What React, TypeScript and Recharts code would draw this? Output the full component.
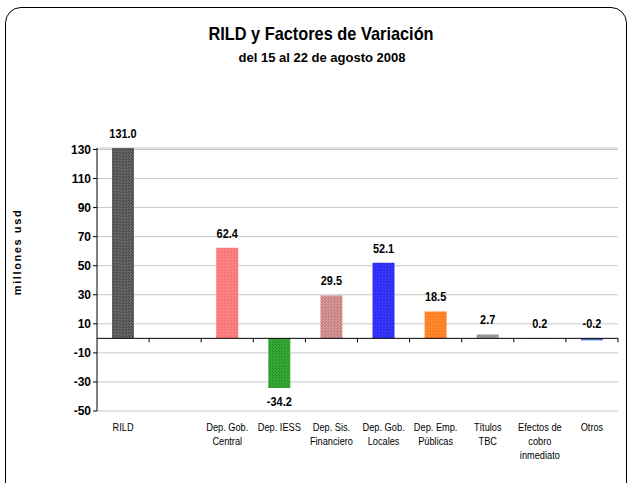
import React from "react";
import {
  BarChart,
  Bar,
  Cell,
  XAxis,
  YAxis,
  CartesianGrid,
  ReferenceLine,
  LabelList,
} from "recharts";

const categories = [
  "RILD",
  "",
  "Dep. Gob.\nCentral",
  "Dep. IESS",
  "Dep. Sis.\nFinanciero",
  "Dep. Gob.\nLocales",
  "Dep. Emp.\nPúblicas",
  "Títulos\nTBC",
  "Efectos de\ncobro\ninmediato",
  "Otros",
];
const values: (number | null)[] = [131.0, null, 62.4, -34.2, 29.5, 52.1, 18.5, 2.7, 0.2, -0.2];
const yTicks = [-50, -30, -10, 10, 30, 50, 70, 90, 110, 130];

// base colour + dot colour for the Excel-like texture
const barColors = [
  ["#646464", "#404040"],
  ["#ffffff", "#ffffff"],
  ["#ff8282", "#f06868"],
  ["#36a836", "#218a21"],
  ["#c98585", "#e0aaaa"],
  ["#3838ff", "#2020d8"],
  ["#ff7d1e", "#f29a50"],
  ["#a0a0a0", "#808080"],
  ["#9090c0", "#7070a0"],
  ["#5577dd", "#3355bb"],
];

const data = categories.map((name, i) => ({ name, value: values[i] }));

const FONT = "'Liberation Sans', Arial, sans-serif";
const NARROW = 0.84;

const CategoryTick = (props: any) => {
  const { x, y, payload } = props;
  const lines = String(payload.value).split("\n");
  return (
    <g transform={`translate(${x},${y}) scale(${NARROW},1)`}>
      <text x={0} y={0} textAnchor="middle" fontFamily={FONT} fontSize={11} fill="#000">
        {lines.map((l, i) => (
          <tspan key={i} x={0} dy={i === 0 ? 12 : 14}>
            {l}
          </tspan>
        ))}
      </text>
    </g>
  );
};

const ZeroLine = (props: any) => {
  const { x1, y1, x2, y2 } = props;
  const n = categories.length;
  const step = (x2 - x1) / n;
  return (
    <g>
      <line x1={x1} y1={y1} x2={x2} y2={y2} stroke="#000" strokeWidth={1} />
      {categories.map((_, i) => (
        <line
          key={i}
          x1={x1 + step * (i + 1)}
          x2={x1 + step * (i + 1)}
          y1={y1}
          y2={y1 + 4}
          stroke="#000"
        />
      ))}
    </g>
  );
};

const ValueLabel = (props: any) => {
  const { x, y, width, height, value } = props;
  if (value === null || value === undefined) return null;
  const top = Math.min(y, y + height);
  const bottom = Math.max(y, y + height);
  const below = value < -1;
  const ty = below ? bottom + 18 : top - 10;
  return (
    <g transform={`translate(${x + width / 2},${ty}) scale(${NARROW},1)`}>
      <text x={0} y={0} textAnchor="middle" fontFamily={FONT} fontWeight="bold" fontSize={13} fill="#000">
        {value.toFixed(1)}
      </text>
    </g>
  );
};

export default function App() {
  return (
    <div style={{ position: "absolute", left: 0, top: 0, width: 632, height: 483, background: "#fff", overflow: "hidden" }}>
      <div
        style={{
          position: "absolute",
          left: 5,
          top: 7,
          width: 620,
          height: 490,
          border: "1px solid #000",
          borderRadius: 16,
        }}
      />
      <div
        style={{
          position: "absolute",
          left: 0,
          top: 23,
          width: 642,
          textAlign: "center",
          fontFamily: FONT,
          fontWeight: "bold",
          fontSize: 19,
          color: "#000",
          transform: "scaleX(0.86)",
        }}
      >
        RILD y Factores de Variación
      </div>
      <div
        style={{
          position: "absolute",
          left: 0,
          top: 50,
          width: 644,
          textAlign: "center",
          fontFamily: FONT,
          fontWeight: "bold",
          fontSize: 13,
          color: "#000",
        }}
      >
        del 15 al 22 de agosto 2008
      </div>
      <div
        style={{
          position: "absolute",
          left: 17,
          top: 252,
          transform: "translate(-50%, -50%) rotate(-90deg)",
          fontFamily: FONT,
          fontWeight: "bold",
          fontSize: 11,
          letterSpacing: 1.6,
          whiteSpace: "nowrap",
          color: "#000",
        }}
      >
        millones usd
      </div>
      <div style={{ position: "absolute", left: 0, top: 0 }}>
        <BarChart
          width={632}
          height={483}
          data={data}
          margin={{ top: 148, right: 14, bottom: 12, left: 0 }}
          barSize={22}
        >
          <defs>
            {barColors.map(([base, dot], i) => (
              <pattern key={i} id={`pat-${i}`} width={3} height={3} patternUnits="userSpaceOnUse">
                <rect width={3} height={3} fill={base} />
                <rect x={0} y={0} width={1} height={1} fill={dot} />
                <rect x={2} y={2} width={1} height={1} fill={dot} />
              </pattern>
            ))}
          </defs>
          <CartesianGrid vertical={false} stroke="#c8c8c8" />
          <XAxis
            dataKey="name"
            axisLine={false}
            tickLine={false}
            interval={0}
            height={60}
            tick={<CategoryTick />}
          />
          <YAxis
            domain={[-50, 131]}
            ticks={yTicks}
            allowDataOverflow
            width={97}
            axisLine={{ stroke: "#000" }}
            tickLine={{ stroke: "#000" }}
            tickSize={4}
            tick={{ fontFamily: FONT, fontWeight: "bold", fontSize: 12, fill: "#000" }}
          />
          <Bar
            dataKey="value"
            isAnimationActive={false}
            minPointSize={(v: number, i: number) => (i === 9 ? 2 : 0)}
          >
            {data.map((_, i) => (
              <Cell key={i} fill={`url(#pat-${i})`} />
            ))}
            <LabelList dataKey="value" content={<ValueLabel />} />
          </Bar>
          <ReferenceLine y={0} shape={<ZeroLine />} />
        </BarChart>
      </div>
    </div>
  );
}
